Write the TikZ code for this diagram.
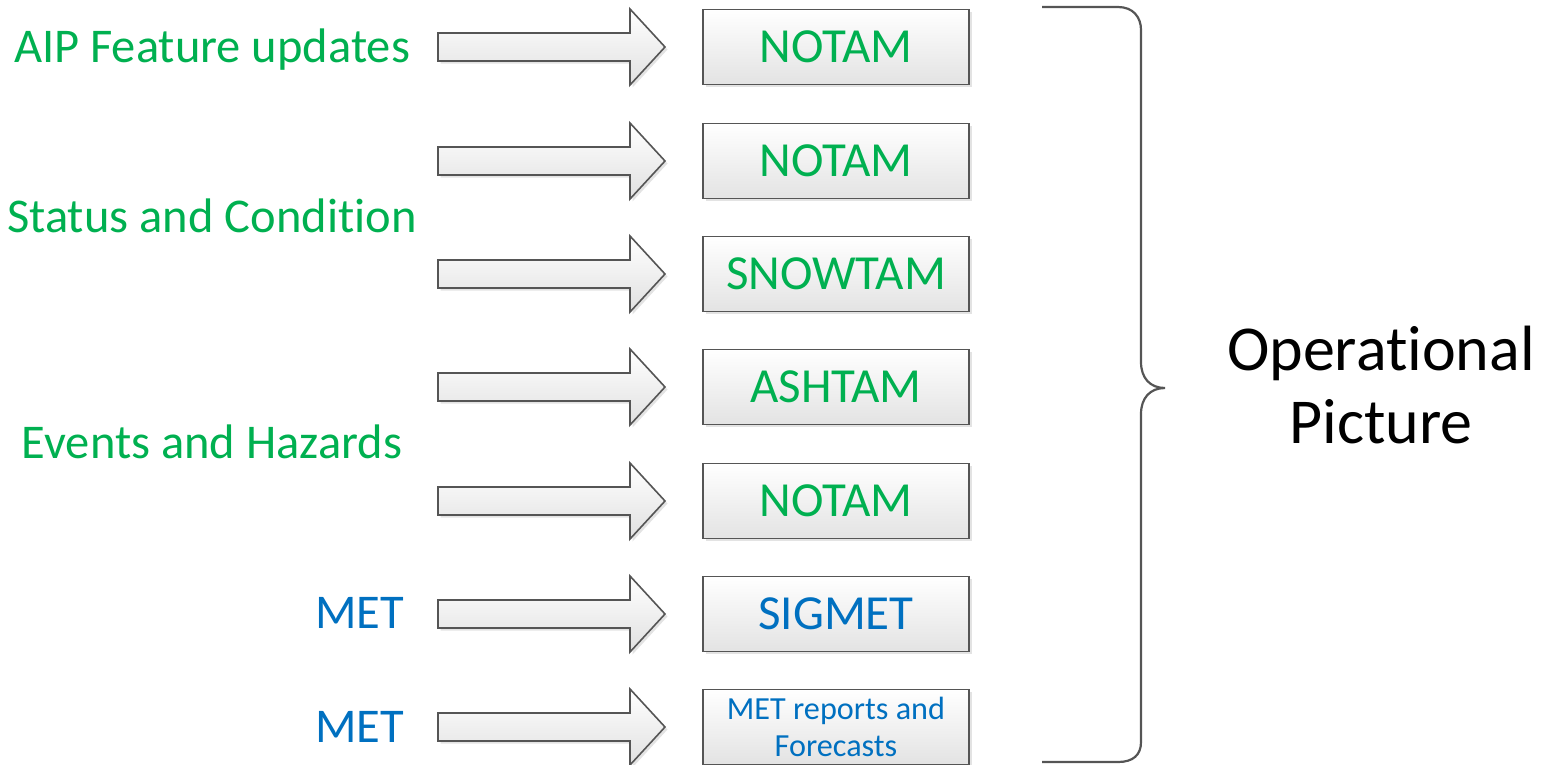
\documentclass[tikz,border=0pt]{standalone}
\usepackage{fontspec}
\setmainfont{Carlito}[Ligatures=NoCommon]
\usetikzlibrary{shadows}
\definecolor{ggreen}{HTML}{00B050}
\definecolor{gblue}{HTML}{0070C0}
\definecolor{edgegray}{HTML}{555555}
\tikzset{
  boxsty/.style={draw=edgegray, line width=1.6pt, top color=white, bottom color=black!11,
    minimum width=266pt, minimum height=75pt, inner sep=0pt,
    drop shadow={opacity=0.22, shadow xshift=2.5pt, shadow yshift=-2.5pt}},
  boxtxt/.style={font=\fontsize{49}{58}\selectfont, text height=31.5pt, text depth=0pt},
  labsty/.style={font=\fontsize{48.5}{58}\selectfont, inner sep=0pt},
  arrowsty/.style={draw=edgegray, line width=1.6pt, line join=miter, top color=white, bottom color=black!12,
    drop shadow={opacity=0.22, shadow xshift=2.5pt, shadow yshift=-2.5pt}},
  barrow/.pic={\path[arrowsty] (0,-14) -- (192,-14) -- (192,-38) -- (227,0) -- (192,38) -- (192,14) -- (0,14) -- cycle;}
}
\begin{document}
\begin{tikzpicture}[x=1pt,y=-1pt]
\useasboundingbox (0,0) rectangle (1549,764);
% arrows
\foreach \yy/\nm in {47/a1,161/a2,274/a3,387/a4,501/a5,614/a6,727/a7}
  \pic (\nm) at (438,\yy) {barrow};
% boxes
\node[boxsty, boxtxt, text=ggreen] (b1) at (836,47) {NOTAM};
\node[boxsty, boxtxt, text=ggreen] (b2) at (836,161) {NOTAM};
\node[boxsty, boxtxt, text=ggreen] (b3) at (836,274) {SNOWTAM};
\node[boxsty, boxtxt, text=ggreen] (b4) at (836,387) {ASHTAM};
\node[boxsty, boxtxt, text=ggreen] (b5) at (836,501) {NOTAM};
\node[boxsty, boxtxt, text=gblue] (b6) at (836,614) {SIGMET};
\node[boxsty, text=gblue, align=center, font=\fontsize{32.2}{37}\selectfont] (b7) at (836,727) {MET reports and\\Forecasts};
% left labels
\node[labsty, text=ggreen, anchor=base] (l1) at (212,62) {AIP Feature updates};
\node[labsty, text=ggreen, anchor=base] (l2) at (212,232) {Status and Condition};
\node[labsty, text=ggreen, anchor=base] (l3) at (212,458) {Events and Hazards};
\node[labsty, text=gblue, anchor=base east] (l4) at (404,628) {MET};
\node[labsty, text=gblue, anchor=base east] (l5) at (404,742) {MET};
% brace
\draw[edgegray, line width=2.2pt] (1042,7) -- (1118,7) .. controls (1133,7) and (1141,17) .. (1141,30)
  -- (1141,362) .. controls (1141,378) and (1150,388) .. (1165,388)
  .. controls (1150,388) and (1141,398) .. (1141,414)
  -- (1141,742) .. controls (1141,755) and (1133,762) .. (1118,762) -- (1042,762);
% right label
\node[align=center, font=\fontsize{64}{73}\selectfont] (op) at (1381,385) {Operational\\Picture};
\end{tikzpicture}
\end{document}
